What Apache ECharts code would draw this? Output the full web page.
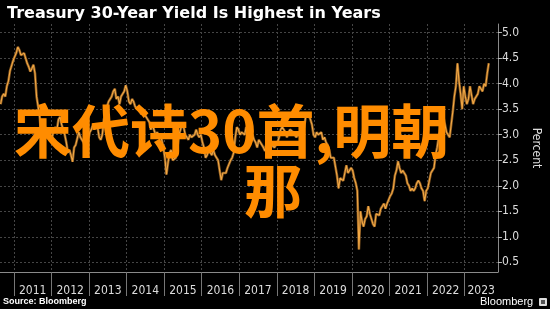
<!DOCTYPE html>
<html>
<head>
<meta charset="utf-8">
<script src="https://cdn.jsdelivr.net/npm/echarts@6/dist/echarts.min.js"></script>
<style>
html,body{margin:0;padding:0;background:#000;}
#chart{width:550px;height:309px;}
</style>
</head>
<body>
<div id="chart"></div>
<script>
// Semi-monthly 30-year Treasury yield readings (percent), first half / second half of each month.
// 2010 starts with the second half of August.
const y2010 = [3.6, 3.75, 3.8, 3.75, 3.95, 4.05, 4.25, 4.35, 4.45];
const y2011 = [4.53, 4.6, 4.72, 4.66, 4.56, 4.53, 4.6, 4.5, 4.4, 4.33, 4.24, 4.3, 4.37, 4.2, 3.75, 3.55, 3.35, 2.95, 2.85, 3.2, 3.1, 3.0, 2.95, 2.9];
const y2012 = [2.95, 3.1, 3.15, 3.1, 3.3, 3.35, 3.2, 3.1, 3.0, 2.85, 2.65, 2.7, 2.6, 2.47, 2.75, 2.8, 2.8, 3.05, 2.95, 2.95, 2.85, 2.75, 2.8, 2.9];
const y2013 = [3.05, 3.1, 3.2, 3.1, 3.2, 3.15, 2.95, 2.9, 3.0, 3.3, 3.4, 3.55, 3.65, 3.65, 3.75, 3.85, 3.9, 3.7, 3.75, 3.6, 3.75, 3.8, 3.85, 3.97];
const y2014 = [3.85, 3.65, 3.6, 3.7, 3.65, 3.55, 3.55, 3.5, 3.45, 3.4, 3.45, 3.45, 3.35, 3.3, 3.25, 3.1, 3.2, 3.2, 3.0, 3.05, 3.05, 2.95, 2.9, 2.75];
const y2015 = [2.55, 2.22, 2.45, 2.65, 2.7, 2.5, 2.5, 2.55, 2.75, 3.0, 3.1, 3.22, 3.15, 3.0, 2.95, 2.9, 3.0, 2.95, 2.95, 3.0, 3.1, 3.0, 2.95, 3.0];
const y2016 = [2.85, 2.75, 2.55, 2.6, 2.7, 2.7, 2.6, 2.7, 2.6, 2.6, 2.5, 2.3, 2.11, 2.25, 2.25, 2.25, 2.35, 2.35, 2.5, 2.55, 2.65, 2.95, 3.15, 3.1];
const y2017 = [3.0, 3.05, 3.05, 3.0, 3.15, 3.05, 2.95, 2.95, 3.0, 2.9, 2.85, 2.75, 2.9, 2.9, 2.8, 2.75, 2.68, 2.85, 2.85, 2.9, 2.8, 2.8, 2.75, 2.8];
const y2018 = [2.85, 2.95, 3.1, 3.15, 3.1, 3.05, 2.95, 3.05, 3.1, 3.1, 3.05, 3.0, 2.95, 3.0, 3.05, 3.0, 3.05, 3.15, 3.35, 3.43, 3.38, 3.3, 3.2, 3.0];
const y2019 = [2.95, 3.05, 3.0, 3.0, 3.05, 2.9, 2.95, 2.85, 2.8, 2.7, 2.55, 2.55, 2.55, 2.55, 2.2, 1.95, 2.15, 2.15, 2.1, 2.25, 2.4, 2.25, 2.25, 2.35];
const y2020 = [2.3, 2.15, 2.05, 1.9, 0.75, 1.5, 1.3, 1.2, 1.35, 1.4, 1.6, 1.45, 1.35, 1.25, 1.2, 1.45, 1.45, 1.42, 1.55, 1.6, 1.65, 1.55, 1.65, 1.65];
const y2021 = [1.8, 1.85, 1.95, 2.2, 2.3, 2.48, 2.35, 2.25, 2.3, 2.3, 2.2, 2.05, 2.0, 1.9, 1.95, 1.9, 1.95, 2.05, 2.1, 2.05, 1.95, 1.9, 1.7, 1.9];
const y2022 = [1.95, 2.1, 2.25, 2.25, 2.35, 2.6, 2.75, 2.95, 3.15, 3.0, 3.35, 3.2, 3.05, 3.0, 2.95, 3.2, 3.45, 3.75, 3.95, 4.4, 4.05, 3.8, 3.5, 3.95];
const y2023 = [3.75, 3.6, 3.7, 3.95, 3.95, 3.6, 3.7, 3.75, 3.8, 3.95, 3.9, 3.85, 4.0, 3.95, 4.2, 4.4];

const seriesByYear = [
  {year: 2010, firstHalf: 15, values: y2010},
  {year: 2011, firstHalf: 0, values: y2011},
  {year: 2012, firstHalf: 0, values: y2012},
  {year: 2013, firstHalf: 0, values: y2013},
  {year: 2014, firstHalf: 0, values: y2014},
  {year: 2015, firstHalf: 0, values: y2015},
  {year: 2016, firstHalf: 0, values: y2016},
  {year: 2017, firstHalf: 0, values: y2017},
  {year: 2018, firstHalf: 0, values: y2018},
  {year: 2019, firstHalf: 0, values: y2019},
  {year: 2020, firstHalf: 0, values: y2020},
  {year: 2021, firstHalf: 0, values: y2021},
  {year: 2022, firstHalf: 0, values: y2022},
  {year: 2023, firstHalf: 0, values: y2023}
];

const yearTicks = [2011, 2012, 2013, 2014, 2015, 2016, 2017, 2018, 2019, 2020, 2021, 2022, 2023];
const yTicks = [0.5, 1.0, 1.5, 2.0, 2.5, 3.0, 3.5, 4.0, 4.5, 5.0];
const xMin = 2010.63, xMax = 2023.89;
const yMin = 0.31, yMax = 5.17;

const titleText = 'Treasury 30-Year Yield Is Highest in Years';
const overlayLine1 = '宋代诗30首,明朝';
const overlayLine2 = '那';

// Build [decimal year, value] pairs
const data = [];
seriesByYear.forEach(s => {
  s.values.forEach((v, j) => {
    const h = s.firstHalf + j;
    data.push([s.year + (h * 0.5 + 0.25) / 12, v]);
  });
});
const labelPositions = yearTicks.map(y => (y + Math.min(y + 1, xMax)) / 2);

const narrow = "'Liberation Sans Narrow', 'DejaVu Sans Condensed', sans-serif";
const chart = echarts.init(document.getElementById('chart'));
chart.setOption({
  backgroundColor: '#000',
  animation: false,
  title: {
    text: titleText, left: 2, top: 1,
    textStyle: {color: '#fff', fontSize: 16, fontWeight: 'bold', fontFamily: "'DejaVu Sans', sans-serif"}
  },
  grid: {left: 0, right: 35, top: 24, bottom: 37},
  xAxis: {
    type: 'value', min: xMin, max: xMax,
    axisLine: {show: true, lineStyle: {color: '#8a8a8a', width: 1}},
    axisTick: {show: true, length: 24, lineStyle: {color: '#777'}, customValues: yearTicks},
    axisLabel: {
      color: '#ddd', fontSize: 12, fontFamily: narrow, margin: 13,
      customValues: labelPositions,
      formatter: v => String(Math.floor(v))
    },
    splitLine: {show: true, lineStyle: {color: '#454545', type: [2, 2], width: 1}}
  },
  yAxis: {
    type: 'value', position: 'right', min: yMin, max: yMax,
    name: 'Percent', nameLocation: 'middle', nameRotate: -90, nameGap: 25,
    nameTextStyle: {color: '#ddd', fontSize: 12, fontFamily: narrow},
    axisLine: {show: true, lineStyle: {color: '#8a8a8a', width: 1}},
    axisTick: {show: true, length: 4, inside: false, lineStyle: {color: '#bbb'}, customValues: yTicks},
    axisLabel: {
      color: '#ddd', fontSize: 12, fontFamily: narrow, margin: 4,
      customValues: yTicks,
      formatter: v => v.toFixed(1)
    },
    splitLine: {show: true, lineStyle: {color: '#454545', type: [2, 2], width: 1}}
  },
  series: [{
    type: 'line', data: data, showSymbol: false, symbol: 'none',
    lineStyle: {color: '#8a5a22', width: 2.6},
    z: 2, silent: true
  }, {
    type: 'line', data: data, showSymbol: false, symbol: 'none',
    lineStyle: {color: '#f2a844', width: 1.1},
    z: 3
  }],
  graphic: [
    {type: 'text', left: 14, top: 102, z: 100,
      style: {text: overlayLine1, font: 'bold 58px "Noto Sans CJK SC"', fill: '#ff8c00'}},
    {type: 'text', left: 244, top: 162, z: 100,
      style: {text: overlayLine2, font: 'bold 58px "Noto Sans CJK SC"', fill: '#ff8c00'}},
    {type: 'text', left: 3, top: 297, z: 100,
      style: {text: 'Source: Bloomberg', font: "bold 9px 'Liberation Sans', Arial, sans-serif", fill: '#fff'}},
    {type: 'text', left: 480, top: 296, z: 100,
      style: {text: 'Bloomberg', font: "11px 'Liberation Sans', Arial, sans-serif", fill: '#fff'}},
    {type: 'rect', left: 539, top: 298, z: 100,
      shape: {width: 8, height: 8, r: 1}, style: {fill: '#ddd'}},
    {type: 'rect', left: 541, top: 300, z: 101,
      shape: {width: 4, height: 4}, style: {fill: '#555'}}
  ]
});
</script>
</body>
</html>
